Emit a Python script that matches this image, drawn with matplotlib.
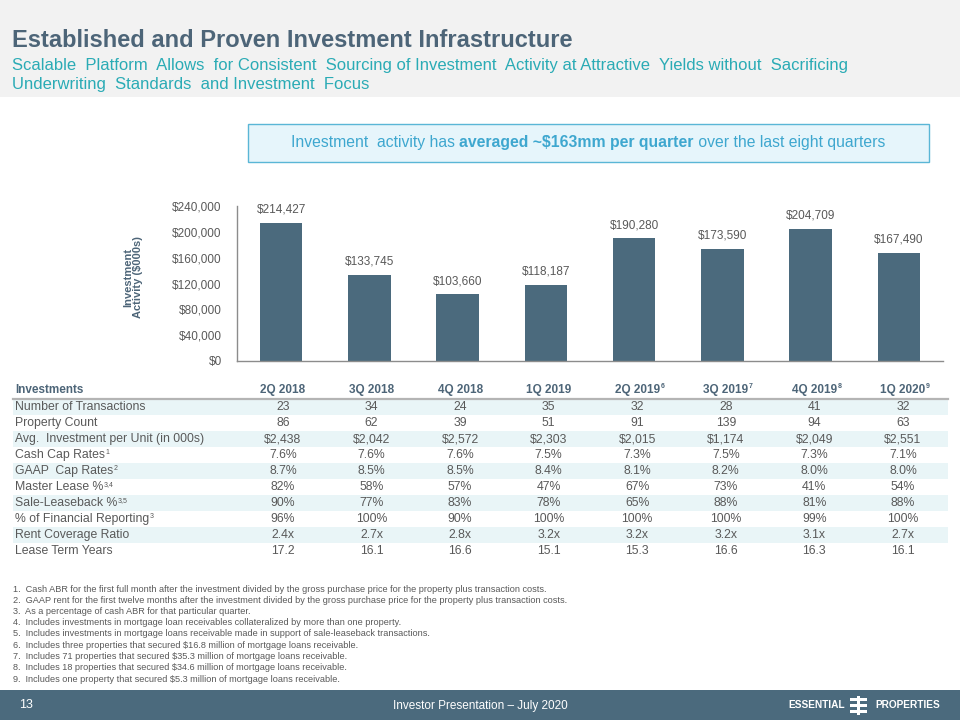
import numpy as np
import matplotlib
matplotlib.use("Agg")
import matplotlib.pyplot as plt
from matplotlib.patches import Rectangle
from matplotlib.ticker import FuncFormatter

plt.rcParams["font.family"] = ["Liberation Sans", "DejaVu Sans"]

# ---- data ----
quarters = ["2Q 2018", "3Q 2018", "4Q 2018", "1Q 2019", "2Q 2019", "3Q 2019", "4Q 2019", "1Q 2020"]
quarter_notes = ["", "", "", "", "6", "7", "8", "9"]
activity = [214427, 133745, 103660, 118187, 190280, 173590, 204709, 167490]

row_labels = ["Number of Transactions", "Property Count", "Avg.  Investment per Unit (in 000s)",
              "Cash Cap Rates", "GAAP  Cap Rates", "Master Lease %", "Sale-Leaseback %",
              "% of Financial Reporting", "Rent Coverage Ratio", "Lease Term Years"]
row_notes = ["", "", "", "1", "2", "3,4", "3,5", "3", "", ""]
table_rows = [
    ["23", "34", "24", "35", "32", "28", "41", "32"],
    ["86", "62", "39", "51", "91", "139", "94", "63"],
    ["$2,438", "$2,042", "$2,572", "$2,303", "$2,015", "$1,174", "$2,049", "$2,551"],
    ["7.6%", "7.6%", "7.6%", "7.5%", "7.3%", "7.5%", "7.3%", "7.1%"],
    ["8.7%", "8.5%", "8.5%", "8.4%", "8.1%", "8.2%", "8.0%", "8.0%"],
    ["82%", "58%", "57%", "47%", "67%", "73%", "41%", "54%"],
    ["90%", "77%", "83%", "78%", "65%", "88%", "81%", "88%"],
    ["96%", "100%", "90%", "100%", "100%", "100%", "99%", "100%"],
    ["2.4x", "2.7x", "2.8x", "3.2x", "3.2x", "3.2x", "3.1x", "2.7x"],
    ["17.2", "16.1", "16.6", "15.1", "15.3", "16.6", "16.3", "16.1"],
]

footnotes = [
    "1.  Cash ABR for the first full month after the investment divided by the gross purchase price for the property plus transaction costs.",
    "2.  GAAP rent for the first twelve months after the investment divided by the gross purchase price for the property plus transaction costs.",
    "3.  As a percentage of cash ABR for that particular quarter.",
    "4.  Includes investments in mortgage loan receivables collateralized by more than one property.",
    "5.  Includes investments in mortgage loans receivable made in support of sale-leaseback transactions.",
    "6.  Includes three properties that secured $16.8 million of mortgage loans receivable.",
    "7.  Includes 71 properties that secured $35.3 million of mortgage loans receivable.",
    "8.  Includes 18 properties that secured $34.6 million of mortgage loans receivable.",
    "9.  Includes one property that secured $5.3 million of mortgage loans receivable.",
]

title = "Established and Proven Investment Infrastructure"
subtitle = ("Scalable  Platform  Allows  for Consistent  Sourcing of Investment  Activity at Attractive  "
            "Yields without  Sacrificing\nUnderwriting  Standards  and Investment  Focus")

# ---- colours ----
slate = "#4b6a7d"
title_col = "#4d6578"
teal = "#2aabb5"
grey_txt = "#595959"
band = "#e9f5f7"

fig = plt.figure(figsize=(9.6, 7.2), dpi=100)

# full-page overlay in pixel coordinates
bg = fig.add_axes([0, 0, 1, 1], zorder=0)
bg.set_xlim(0, 960)
bg.set_ylim(720, 0)
bg.axis("off")

# header
bg.add_patch(Rectangle((0, 0), 960, 97, color="#f2f2f2", lw=0))
bg.text(12, 40.5, title, fontsize=17, fontweight="bold", color=title_col, va="center", ha="left")
bg.text(12, 75, subtitle, fontsize=12, color=teal, va="center", ha="left", linespacing=1.38)

# callout box
bg.add_patch(Rectangle((248, 124), 681, 38, facecolor="#e6f5fb", edgecolor="#5ab6d6", lw=1.0))
t1 = bg.text(291, 143, "Investment  activity has ", fontsize=11.3, color="#3ea7cf", va="center", ha="left")
t2 = bg.annotate("averaged ~$163mm per quarter", xy=(1, 0), xycoords=t1, va="bottom", ha="left",
                 fontsize=11.3, fontweight="bold", color="#3ea7cf")
bg.annotate(" over the last eight quarters", xy=(1, 0), xycoords=t2, va="bottom", ha="left",
            fontsize=11.3, color="#3ea7cf")

# bar chart
ax = fig.add_axes([237 / 960, 1 - 361 / 720, (943 - 237) / 960, (361 - 206) / 720], zorder=1)
ax.set_facecolor("none")
x = np.arange(len(quarters))
bars = ax.bar(x, activity, width=0.48, color=slate)
for b, v in zip(bars, activity):
    ax.annotate(f"${v:,.0f}", (b.get_x() + b.get_width() / 2, v), xytext=(0, 5),
                textcoords="offset points", ha="center", va="bottom", fontsize=8.5, color=grey_txt)
ax.set_xlim(-0.5, len(quarters) - 0.5)
ax.set_ylim(0, 240000)
ax.set_yticks(np.arange(0, 240001, 40000))
ax.yaxis.set_major_formatter(FuncFormatter(lambda v, p: f"${v:,.0f}"))
ax.set_xticks([])
ax.tick_params(axis="y", length=0, pad=11, labelsize=8.5, labelcolor=grey_txt)
for s in ["top", "right"]:
    ax.spines[s].set_visible(False)
for s in ["left", "bottom"]:
    ax.spines[s].set_color("#8c8c8c")
    ax.spines[s].set_linewidth(1.0)
bg.text(133, 277, "Investment\nActivity ($000s)", rotation=90, fontsize=8, fontweight="bold",
        color=title_col, ha="center", va="center", linespacing=1.0)

# table
col_x = np.linspace(283, 903, len(quarters))
row_y0, row_h = 407, 16
bg.text(15, 390, "Investments", fontsize=8.5, fontweight="bold", color=title_col, va="center")
for cx, q, n in zip(col_x, quarters, quarter_notes):
    t = bg.text(cx, 390, q, fontsize=8.5, fontweight="bold", color=title_col, va="center", ha="center")
    if n:
        bg.annotate(n, xy=(1, 1), xycoords=t, xytext=(0.3, 0.5), textcoords="offset points",
                    ha="left", va="top", fontsize=5, fontweight="bold", color=title_col)
bg.plot([13, 948], [399, 399], color="#b4b4b4", lw=1.6)
for i, (lab, note, vals) in enumerate(zip(row_labels, row_notes, table_rows)):
    yy = row_y0 + i * row_h
    if i % 2 == 0:
        bg.add_patch(Rectangle((13, yy - row_h / 2), 935, row_h, color=band, lw=0))
    t = bg.text(15, yy, lab, fontsize=8.8, color=grey_txt, va="center", ha="left")
    if note:
        bg.annotate(note, xy=(1, 1), xycoords=t, xytext=(0.3, 0.3), textcoords="offset points",
                    ha="left", va="top", fontsize=5, color=grey_txt)
    for cx, v in zip(col_x, vals):
        bg.text(cx, yy, v, fontsize=8.8, color=grey_txt, va="center", ha="center")

# footnotes
for i, fn in enumerate(footnotes):
    bg.text(13, 589 + i * 11.25, fn, fontsize=6.6, color=grey_txt, va="center", ha="left")

# footer
bg.add_patch(Rectangle((0, 690), 960, 30, color=slate, lw=0))
bg.text(19, 705, "13", fontsize=9, color="white", va="center", ha="left")
bg.text(393, 706, "Investor Presentation \u2013 July 2020", fontsize=8.5, color="white", va="center", ha="left")
bg.text(788, 705, "ESSENTIAL", fontsize=7.3, fontweight="bold", color="white", va="center", ha="left")
bg.text(875, 705, "PROPERTIES", fontsize=7.3, fontweight="bold", color="white", va="center", ha="left")
for yy in (699, 705, 711):
    bg.add_patch(Rectangle((850, yy - 1.5), 17, 3, color="white", lw=0))
bg.add_patch(Rectangle((856.5, 696), 3, 19, color="white", lw=0))

fig.savefig("out.png", dpi=100)
